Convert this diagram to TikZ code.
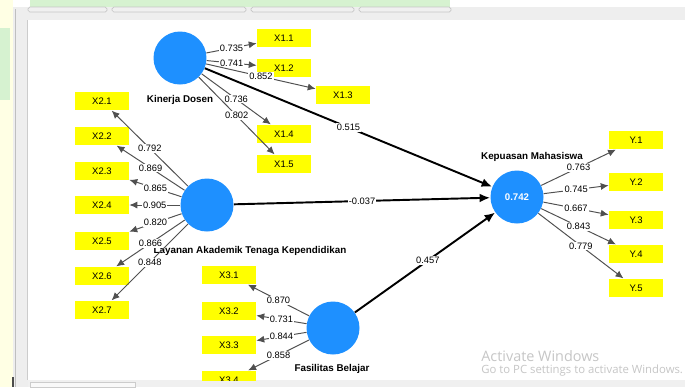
\documentclass[tikz,border=0pt]{standalone}
\usepackage{fontspec}
\setmainfont{Liberation Sans}
\newfontfamily\winfont{Open Sans}
\usetikzlibrary{arrows.meta, positioning}
\definecolor{lvblue}{RGB}{30, 144, 255}
\definecolor{mvyellow}{RGB}{255, 255, 0}
\definecolor{loadgray}{RGB}{80, 80, 80}
\definecolor{framegray}{RGB}{238, 238, 238}
\definecolor{paleyellow}{RGB}{255, 255, 228}
\definecolor{palegreen}{RGB}{214, 242, 208}

\begin{document}
\begin{tikzpicture}[
    x=0.02cm, y=-0.02cm,
    latent/.style={circle, fill=lvblue, minimum size=1.06cm, inner sep=0pt,
                font=\fontsize{5.5}{6}\selectfont\bfseries, text=white},
    indicator/.style={fill=mvyellow, minimum width=1.08cm, minimum height=0.37cm,
                inner sep=0pt, font=\fontsize{5.4}{6}\selectfont},
    lvname/.style={font=\fontsize{5.6}{6}\selectfont\bfseries},
    loading/.style={draw=loadgray, line width=0.55pt, -{Latex[length=4.5pt, width=4pt]}},
    path coef/.style={draw=black, line width=1.1pt, -{Latex[length=6pt, width=5pt]}},
    coef/.style={fill=white, inner sep=0.6pt, font=\fontsize{5.3}{6}\selectfont}
]
    \useasboundingbox (0,0) rectangle (685,387);

    % screen around the model
    \fill[white] (0,0) rectangle (685,387);
    \fill[paleyellow] (0,0) rectangle (13,387);
    \fill[palegreen] (0,28) rectangle (10,100);
    \fill[palegreen] (30,0) rectangle (450,7);
    \fill[framegray] (13,7) rectangle (685,20);
    \fill[framegray] (13,7) rectangle (28,387);
    \draw[gray!50] (15,9) -- (15,387);
    \draw[gray!40] (27,20) -- (27,380);
    \draw[gray!60!black, line width=1pt] (13,377) -- (13,387);
    \foreach \a/\b in {28/107, 112/246, 251/354, 359/451}
        \draw[gray!45, fill=gray!12, rounded corners=1pt] (\a,7) rectangle (\b,12);
    \fill[white] (28,20) rectangle (685,380);
    \fill[gray!12] (28,380) rectangle (685,387);
    \draw[gray!40, fill=gray!5] (30,382) rectangle (135,387);

    % latent variables
    \node[latent] (kd) at (180,58) {};
    \node[latent] (la) at (207,205) {};
    \node[latent] (fb) at (333,328) {};
    \node[latent] (km) at (517,197) {0.742};

    \node[lvname] at (180,100) {Kinerja Dosen};
    \node[lvname] at (250,251) {Layanan Akademik Tenaga Kependidikan};
    \node[lvname] at (332,369) {Fasilitas Belajar};
    \node[lvname] at (532,157) {Kepuasan Mahasiswa};

    % indicators
    \node[indicator] (x11) at (284,38) {X1.1};
    \node[indicator] (x12) at (284,68) {X1.2};
    \node[indicator] (x13) at (343,95) {X1.3};
    \node[indicator] (x14) at (284,134) {X1.4};
    \node[indicator] (x15) at (284,164) {X1.5};

    \node[indicator] (x21) at (102,101) {X2.1};
    \node[indicator] (x22) at (102,136) {X2.2};
    \node[indicator] (x23) at (102,171) {X2.3};
    \node[indicator] (x24) at (102,205) {X2.4};
    \node[indicator] (x25) at (102,241) {X2.5};
    \node[indicator] (x26) at (102,276) {X2.6};
    \node[indicator] (x27) at (102,310) {X2.7};

    \node[indicator] (x31) at (229,275) {X3.1};
    \node[indicator] (x32) at (229,311) {X3.2};
    \node[indicator] (x33) at (229,345) {X3.3};

    \node[indicator] (y1) at (636,140) {Y.1};
    \node[indicator] (y2) at (636,182) {Y.2};
    \node[indicator] (y3) at (636,220) {Y.3};
    \node[indicator] (y4) at (636,254) {Y.4};
    \node[indicator] (y5) at (636,288) {Y.5};

    % outer loadings
    \draw[loading] (kd) -- node[coef] {0.735} (x11);
    \draw[loading] (kd) -- node[coef] {0.741} (x12);
    \draw[loading] (kd) -- node[coef] {0.852} (x13);
    \draw[loading] (kd) -- node[coef] {0.736} (x14);
    \draw[loading] (kd) -- node[coef] {0.802} (x15);

    \draw[loading] (la) -- node[coef] {0.792} (x21);
    \draw[loading] (la) -- node[coef] {0.869} (x22);
    \draw[loading] (la) -- node[coef] {0.865} (x23);
    \draw[loading] (la) -- node[coef] {0.905} (x24);
    \draw[loading] (la) -- node[coef] {0.820} (x25);
    \draw[loading] (la) -- node[coef] {0.866} (x26);
    \draw[loading] (la) -- node[coef] {0.848} (x27);

    \draw[loading] (fb) -- node[coef] {0.870} (x31);
    \draw[loading] (fb) -- node[coef] {0.731} (x32);
    \draw[loading] (fb) -- node[coef] {0.844} (x33);

    \draw[loading] (km) -- node[coef] {0.763} (y1);
    \draw[loading] (km) -- node[coef] {0.745} (y2);
    \draw[loading] (km) -- node[coef] {0.667} (y3);
    \draw[loading] (km) -- node[coef] {0.843} (y4);
    \draw[loading] (km) -- node[coef] {0.779} (y5);

    % X3.4 cut off by the scroll bar
    \begin{scope}
        \clip (0,0) rectangle (685,380);
        \node[indicator] (x34) at (229,380) {X3.4};
        \draw[loading] (fb) -- node[coef] {0.858} (x34);
    \end{scope}

    % inner model
    \draw[path coef] (kd) -- node[coef] {0.515} (km);
    \draw[path coef] (la) -- node[coef] {-0.037} (km);
    \draw[path coef] (fb) -- node[coef, pos=0.52] {0.457} (km);

    % watermark
    \node[text=gray!45, inner sep=0pt, font=\winfont\fontsize{8.2}{9}\selectfont, anchor=west] (actw) at (481,356) {Activate Windows};
    \node[text=gray!45, inner sep=0pt, font=\winfont\fontsize{6.45}{7}\selectfont, anchor=west] (actg) at (481,371) {Go to PC settings to activate Windows.};
\end{tikzpicture}
\end{document}
